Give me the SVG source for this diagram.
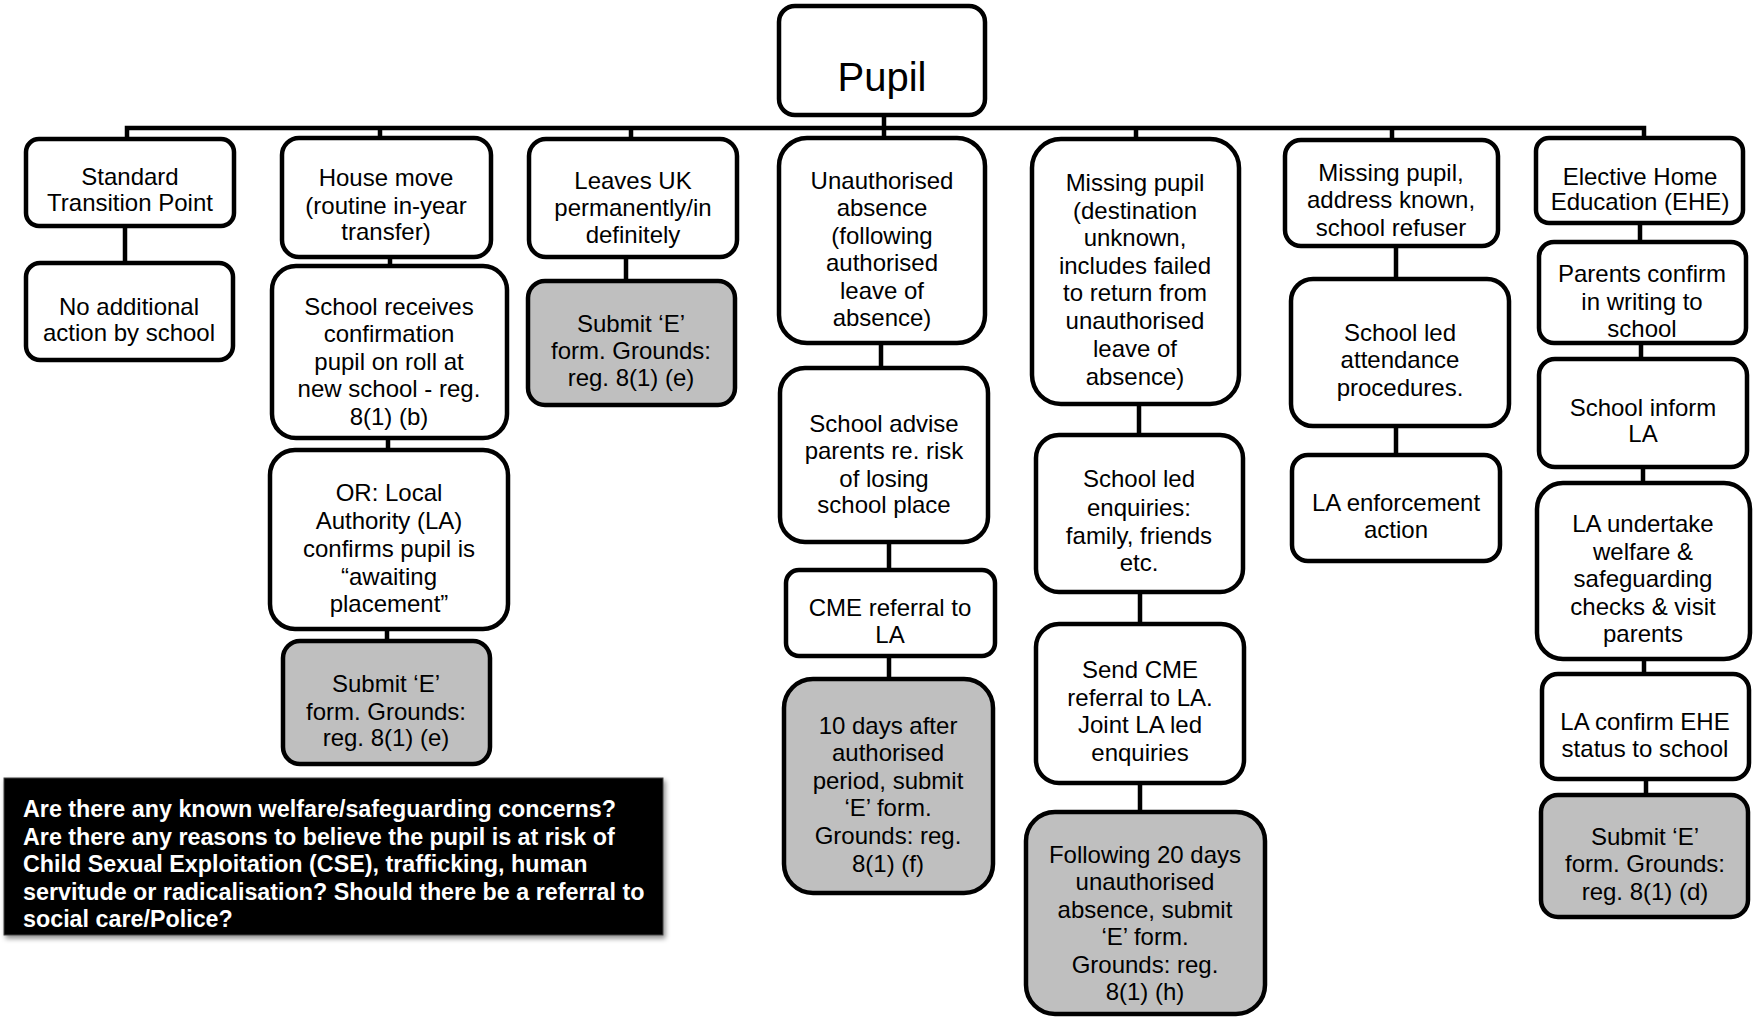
<svg xmlns="http://www.w3.org/2000/svg" width="1753" height="1017" viewBox="0 0 1753 1017">
<defs>
<style>
.b{fill:#fff;stroke:#000;stroke-width:4.5}
.g{fill:#bfbfbf;stroke:#000;stroke-width:4.5}
.t{font-family:"Liberation Sans",Arial,sans-serif;font-size:24px;fill:#000;text-anchor:middle}
.c{fill:none;stroke:#000;stroke-width:4.5}
.w{font-family:"Liberation Sans",Arial,sans-serif;font-size:23.3px;font-weight:bold;fill:#fff}
</style>
<filter id="sh" x="-5%" y="-10%" width="110%" height="125%">
<feDropShadow dx="2" dy="3" stdDeviation="2.5" flood-color="#000" flood-opacity="0.45"/>
</filter>
</defs>
<rect width="1753" height="1017" fill="#fff"/>

<g id="connectors">
<path class="c" d="M127,139 V128 H1644 V138"/>
<path class="c" d="M380,128 V138 M631,128 V139 M884,115 V138 M1136,128 V139 M1392,128 V140"/>
<path class="c" d="M125,226 V263 M390,257 V266 M388,438 V450 M387,629 V641 M626,257 V281"/>
<path class="c" d="M881,343 V368 M889,542 V570 M889,656 V679"/>
<path class="c" d="M1139,404 V435 M1140,592 V624 M1140,783 V812"/>
<path class="c" d="M1396,246 V279 M1396,426 V455"/>
<path class="c" d="M1640,223 V242 M1641,343 V359 M1643,467 V483 M1644,659 V674 M1646,779 V795"/>
</g>

<g id="pupil">
<rect class="b" x="779" y="6" width="206" height="109" rx="16"/>
<text class="t" x="882" y="91" style="font-size:40px">Pupil</text>
</g>

<g id="stp">
<rect class="b" x="26" y="139" width="208" height="87" rx="13"/>
<text class="t"><tspan x="130" y="185">Standard</tspan><tspan x="130" y="211">Transition Point</tspan></text>
</g>
<g id="noaction">
<rect class="b" x="26" y="263" width="207" height="97" rx="14"/>
<text class="t"><tspan x="129" y="315">No additional</tspan><tspan x="129" y="341">action by school</tspan></text>
</g>

<g id="housemove">
<rect class="b" x="282" y="138" width="209" height="119" rx="17"/>
<text class="t"><tspan x="386" y="186">House move</tspan><tspan x="386" y="214">(routine in-year</tspan><tspan x="386" y="240">transfer)</tspan></text>
</g>
<g id="schoolreceives">
<rect class="b" x="272" y="266" width="235" height="172" rx="24"/>
<text class="t"><tspan x="389" y="315">School receives</tspan><tspan x="389" y="342">confirmation</tspan><tspan x="389" y="370">pupil on roll at</tspan><tspan x="389" y="397">new school - reg.</tspan><tspan x="389" y="425">8(1) (b)</tspan></text>
</g>
<g id="orlocal">
<rect class="b" x="270" y="450" width="238" height="179" rx="25"/>
<text class="t"><tspan x="389" y="501">OR: Local</tspan><tspan x="389" y="529">Authority (LA)</tspan><tspan x="389" y="557">confirms pupil is</tspan><tspan x="389" y="585">“awaiting</tspan><tspan x="389" y="612">placement”</tspan></text>
</g>
<g id="submit_house">
<rect class="g" x="283" y="641" width="207" height="123" rx="17"/>
<text class="t"><tspan x="386" y="692">Submit ‘E’</tspan><tspan x="386" y="720">form. Grounds:</tspan><tspan x="386" y="746">reg. 8(1) (e)</tspan></text>
</g>

<g id="leavesuk">
<rect class="b" x="529" y="139" width="208" height="118" rx="17"/>
<text class="t"><tspan x="633" y="189">Leaves UK</tspan><tspan x="633" y="216">permanently/in</tspan><tspan x="633" y="243">definitely</tspan></text>
</g>
<g id="submit_leaves">
<rect class="g" x="528" y="281" width="207" height="124" rx="17"/>
<text class="t"><tspan x="631" y="332">Submit ‘E’</tspan><tspan x="631" y="359">form. Grounds:</tspan><tspan x="631" y="386">reg. 8(1) (e)</tspan></text>
</g>

<g id="unauthorised">
<rect class="b" x="779" y="138" width="206" height="205" rx="28"/>
<text class="t"><tspan x="882" y="189">Unauthorised</tspan><tspan x="882" y="216">absence</tspan><tspan x="882" y="244">(following</tspan><tspan x="882" y="271">authorised</tspan><tspan x="882" y="299">leave of</tspan><tspan x="882" y="326">absence)</tspan></text>
</g>
<g id="advise">
<rect class="b" x="780" y="368" width="208" height="174" rx="25"/>
<text class="t"><tspan x="884" y="432">School advise</tspan><tspan x="884" y="459">parents re. risk</tspan><tspan x="884" y="487">of losing</tspan><tspan x="884" y="513">school place</tspan></text>
</g>
<g id="cme">
<rect class="b" x="786" y="570" width="209" height="86" rx="13"/>
<text class="t"><tspan x="890" y="616">CME referral to</tspan><tspan x="890" y="643">LA</tspan></text>
</g>
<g id="tendays">
<rect class="g" x="784" y="679" width="209" height="214" rx="29"/>
<text class="t"><tspan x="888" y="734">10 days after</tspan><tspan x="888" y="761">authorised</tspan><tspan x="888" y="789">period, submit</tspan><tspan x="888" y="816">‘E’ form.</tspan><tspan x="888" y="844">Grounds: reg.</tspan><tspan x="888" y="872">8(1) (f)</tspan></text>
</g>

<g id="missing">
<rect class="b" x="1032" y="139" width="207" height="265" rx="29"/>
<text class="t"><tspan x="1135" y="191">Missing pupil</tspan><tspan x="1135" y="219">(destination</tspan><tspan x="1135" y="246">unknown,</tspan><tspan x="1135" y="274">includes failed</tspan><tspan x="1135" y="301">to return from</tspan><tspan x="1135" y="329">unauthorised</tspan><tspan x="1135" y="357">leave of</tspan><tspan x="1135" y="385">absence)</tspan></text>
</g>
<g id="enquiries">
<rect class="b" x="1036" y="435" width="207" height="157" rx="23"/>
<text class="t"><tspan x="1139" y="487">School led</tspan><tspan x="1139" y="516">enquiries:</tspan><tspan x="1139" y="544">family, friends</tspan><tspan x="1139" y="571">etc.</tspan></text>
</g>
<g id="sendcme">
<rect class="b" x="1036" y="624" width="208" height="159" rx="23"/>
<text class="t"><tspan x="1140" y="678">Send CME</tspan><tspan x="1140" y="706">referral to LA.</tspan><tspan x="1140" y="733">Joint LA led</tspan><tspan x="1140" y="761">enquiries</tspan></text>
</g>
<g id="following">
<rect class="g" x="1026" y="812" width="239" height="202" rx="29"/>
<text class="t"><tspan x="1145" y="863">Following 20 days</tspan><tspan x="1145" y="890">unauthorised</tspan><tspan x="1145" y="918">absence, submit</tspan><tspan x="1145" y="945">‘E’ form.</tspan><tspan x="1145" y="973">Grounds: reg.</tspan><tspan x="1145" y="1000">8(1) (h)</tspan></text>
</g>

<g id="addressknown">
<rect class="b" x="1285" y="140" width="213" height="106" rx="16"/>
<text class="t"><tspan x="1391" y="181">Missing pupil,</tspan><tspan x="1391" y="208">address known,</tspan><tspan x="1391" y="236">school refuser</tspan></text>
</g>
<g id="attendance">
<rect class="b" x="1291" y="279" width="218" height="147" rx="22"/>
<text class="t"><tspan x="1400" y="341">School led</tspan><tspan x="1400" y="368">attendance</tspan><tspan x="1400" y="396">procedures.</tspan></text>
</g>
<g id="enforcement">
<rect class="b" x="1292" y="455" width="208" height="106" rx="16"/>
<text class="t"><tspan x="1396" y="511">LA enforcement</tspan><tspan x="1396" y="538">action</tspan></text>
</g>

<g id="ehe">
<rect class="b" x="1536" y="138" width="207" height="85" rx="13"/>
<text class="t"><tspan x="1640" y="185">Elective Home</tspan><tspan x="1640" y="210">Education (EHE)</tspan></text>
</g>
<g id="parents">
<rect class="b" x="1539" y="242" width="207" height="101" rx="15"/>
<text class="t"><tspan x="1642" y="282">Parents confirm</tspan><tspan x="1642" y="310">in writing to</tspan><tspan x="1642" y="337">school</tspan></text>
</g>
<g id="inform">
<rect class="b" x="1539" y="359" width="208" height="108" rx="16"/>
<text class="t"><tspan x="1643" y="416">School inform</tspan><tspan x="1643" y="442">LA</tspan></text>
</g>
<g id="undertake">
<rect class="b" x="1537" y="483" width="213" height="176" rx="26"/>
<text class="t"><tspan x="1643" y="532">LA undertake</tspan><tspan x="1643" y="560">welfare &amp;</tspan><tspan x="1643" y="587">safeguarding</tspan><tspan x="1643" y="615">checks &amp; visit</tspan><tspan x="1643" y="642">parents</tspan></text>
</g>
<g id="confirmehe">
<rect class="b" x="1542" y="674" width="207" height="105" rx="16"/>
<text class="t"><tspan x="1645" y="730">LA confirm EHE</tspan><tspan x="1645" y="757">status to school</tspan></text>
</g>
<g id="submit_ehe">
<rect class="g" x="1541" y="795" width="207" height="122" rx="17"/>
<text class="t"><tspan x="1645" y="845">Submit ‘E’</tspan><tspan x="1645" y="872">form. Grounds:</tspan><tspan x="1645" y="900">reg. 8(1) (d)</tspan></text>
</g>

<g id="concerns">
<rect x="4" y="778" width="659" height="157" fill="#000" stroke="#444" stroke-width="1" filter="url(#sh)"/>
<text class="w"><tspan x="23" y="817">Are there any known welfare/safeguarding concerns?</tspan><tspan x="23" y="845">Are there any reasons to believe the pupil is at risk of</tspan><tspan x="23" y="872">Child Sexual Exploitation (CSE), trafficking, human</tspan><tspan x="23" y="900">servitude or radicalisation? Should there be a referral to</tspan><tspan x="23" y="927">social care/Police?</tspan></text>
</g>
</svg>
